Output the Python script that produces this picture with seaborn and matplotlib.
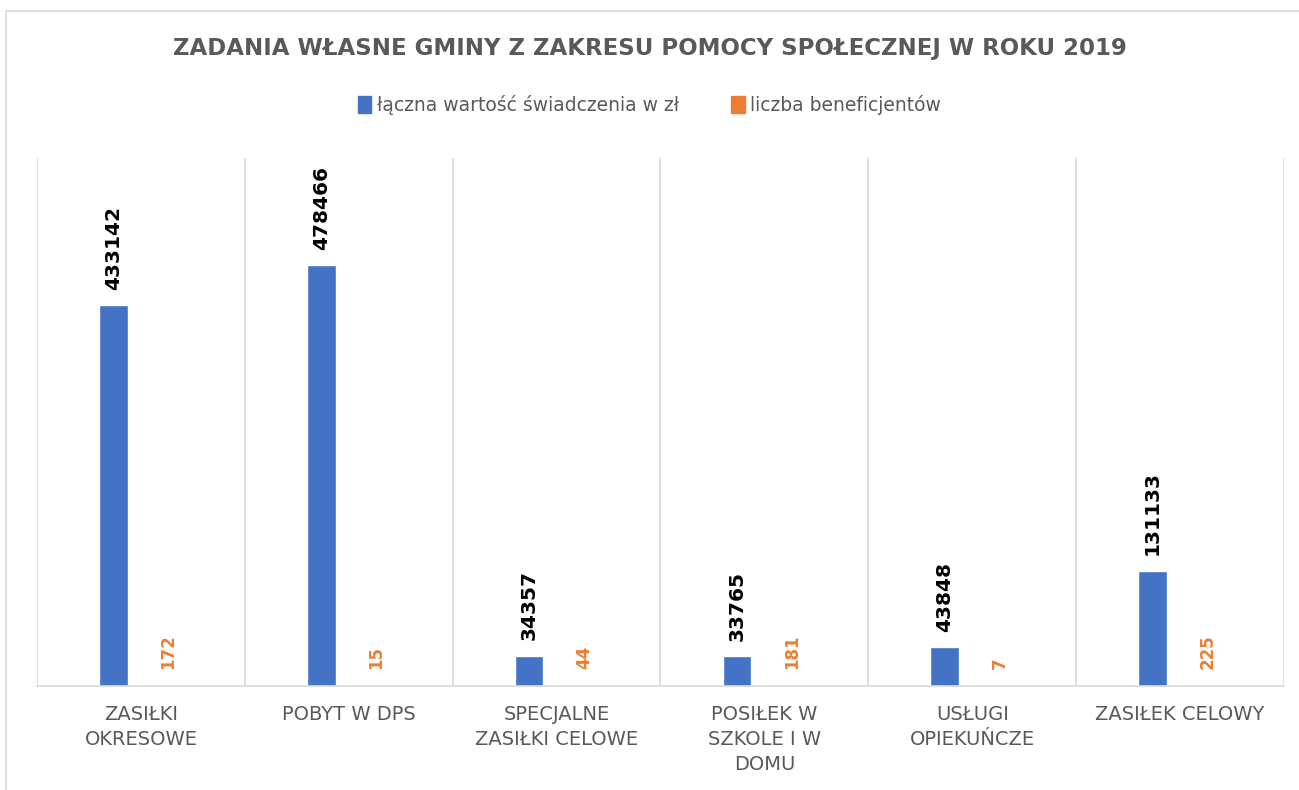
import pandas as pd
import matplotlib.pyplot as plt
import seaborn as sns
from matplotlib.lines import Line2D

# data
categories = ["ZASIŁKI\nOKRESOWE", "POBYT W DPS", "SPECJALNE\nZASIŁKI CELOWE",
              "POSIŁEK W\nSZKOLE I W\nDOMU", "USŁUGI\nOPIEKUŃCZE", "ZASIŁEK CELOWY"]
wartosc = [433142, 478466, 34357, 33765, 43848, 131133]
beneficjenci = [172, 15, 44, 181, 7, 225]
series = ["łączna wartość świadczenia w zł", "liczba beneficjentów"]

df = pd.DataFrame({
    "kategoria": categories * 2,
    "seria": [series[0]] * len(categories) + [series[1]] * len(categories),
    "wartosc": wartosc + beneficjenci,
})

sns.set_style("white")
plt.rcParams["font.family"] = ["DejaVu Sans"]

fig = plt.figure(figsize=(12.99, 7.90), dpi=100)
ax = fig.add_axes([37 / 1299, 1 - 686 / 790, (1284 - 37) / 1299, (686 - 158) / 790])

sns.barplot(data=df, x="kategoria", y="wartosc", hue="seria",
            palette=["#4472C4", "#ED7D31"], width=0.53, gap=0.48,
            ax=ax, legend=False, saturation=1)

ax.set_ylim(0, 600000)
ax.set_xlim(-0.5, len(categories) - 0.5)

# data labels
ax.bar_label(ax.containers[0], labels=[str(v) for v in wartosc], rotation=90,
             padding=11, fontsize=14.5, fontweight="bold", color="black")
ax.bar_label(ax.containers[1], labels=[str(v) for v in beneficjenci], rotation=90,
             padding=12, fontsize=12, fontweight="bold", color="#ED7D31")

# category separators
ax.set_xticks([i - 0.5 for i in range(len(categories) + 1)], minor=True)
ax.grid(which="minor", axis="x", color="#D9D9D9", linewidth=1.2)
ax.grid(which="major", visible=False)
ax.tick_params(axis="x", which="both", length=0, pad=14)
ax.set_xticklabels(categories, fontsize=14, color="#595959", linespacing=1.4)
ax.set_yticks([])
ax.set_xlabel("")
ax.set_ylabel("")
for s in ["top", "right", "left"]:
    ax.spines[s].set_visible(False)
ax.spines["bottom"].set_color("#D9D9D9")
ax.spines["bottom"].set_linewidth(1.2)

fig.text(0.5, 1 - 48 / 790, "ZADANIA WŁASNE GMINY Z ZAKRESU POMOCY SPOŁECZNEJ W ROKU 2019",
         ha="center", va="center", fontsize=16.5, fontweight="bold", color="#595959")

handles = [plt.Rectangle((0, 0), 1, 1, color="#4472C4"),
           plt.Rectangle((0, 0), 1, 1, color="#ED7D31")]
fig.legend(handles, series, loc="center", bbox_to_anchor=(0.5, 1 - 105 / 790), ncol=2,
           frameon=False, fontsize=13.5, labelcolor="#595959", handlelength=0.7,
           handleheight=1.0, handletextpad=0.3, columnspacing=2.8)

# chart border (cut off at right and bottom)
fig.add_artist(Line2D([6 / 1299, 1], [1 - 11 / 790] * 2, transform=fig.transFigure,
                      color="#D9D9D9", linewidth=1.2))
fig.add_artist(Line2D([6 / 1299] * 2, [0, 1 - 11 / 790], transform=fig.transFigure,
                      color="#D9D9D9", linewidth=1.2))

fig.savefig("out.png", dpi=100)
